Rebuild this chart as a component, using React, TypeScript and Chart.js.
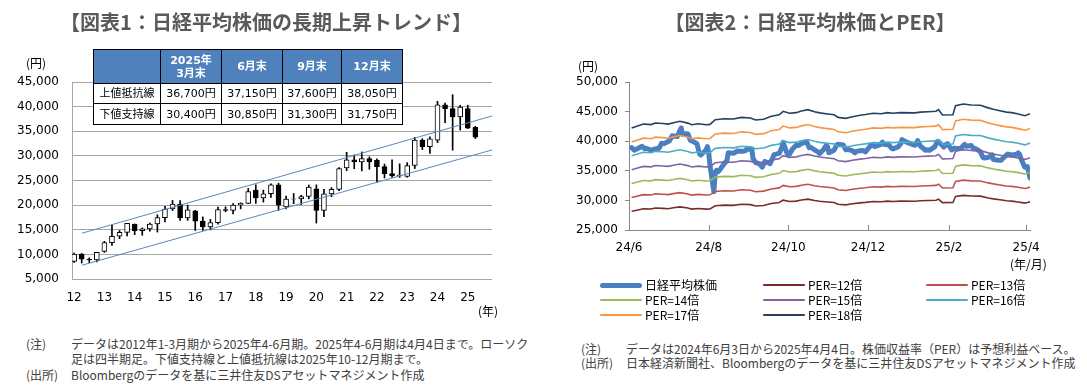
import React, { useEffect, useRef } from "react";
import { Chart, registerables } from "chart.js";

Chart.register(...registerables);

const LATIN = "'DejaVu Sans', 'Noto Sans CJK JP', sans-serif";
const JP = "'Noto Sans CJK JP', 'DejaVu Sans', sans-serif";

// ---------- Chart 1: quarterly candles 2012Q1 .. 2025Q2 ----------
const firstYear = 2012;
const candleOpen = [
  8549, 10083, 9007, 8870, 10600, 12398, 13677, 14455, 16147, 14828, 15162, 16174,
  17451, 19207, 20236, 17388, 18818, 16759, 15576, 16450, 19114, 18909, 20033, 20356,
  23073, 21454, 22305, 24120, 19655, 21206, 21276, 21756, 23320, 18917, 22288, 23185,
  27575, 29179, 28792, 29453, 29098, 27821, 26393, 25937, 25834, 28041, 33189, 31858,
  33193, 40369, 39583, 37920, 39600, 35800,
];
const candleHigh = [
  10255, 10190, 9288, 10433, 12650, 15942, 14855, 16320, 16164, 15376, 16375, 18030,
  19778, 20953, 20946, 20012, 18951, 17613, 17100, 19592, 19668, 20318, 20481, 23382,
  24129, 23050, 24306, 24448, 21860, 22362, 22000, 24092, 24116, 23186, 23559, 27602,
  30715, 30208, 30796, 29808, 29388, 28338, 29222, 28384, 28623, 33772, 33488, 33853,
  41087, 40697, 42426, 40257, 40288, 36000,
];
const candleLow = [
  8349, 8238, 8328, 8488, 10400, 11805, 13188, 13748, 13995, 13885, 14720, 14529,
  16593, 18886, 16901, 16902, 14866, 14864, 14952, 16111, 18650, 18224, 19239, 20296,
  20347, 20617, 21546, 18949, 19241, 20289, 20110, 21277, 16358, 17646, 21710, 22948,
  27002, 27385, 26954, 27293, 24682, 25520, 25621, 25622, 25662, 27427, 31275, 30487,
  32693, 36733, 31156, 35253, 35541, 33500,
];
const candleClose = [
  10083, 9007, 8870, 10395, 12398, 13677, 14455, 16291, 14828, 15162, 16174, 17451,
  19207, 20236, 17388, 19034, 16759, 15576, 16450, 19114, 18909, 20033, 20356, 22765,
  21454, 22305, 24120, 20015, 21206, 21276, 21756, 23657, 18917, 22288, 23185, 27444,
  29179, 28792, 29453, 28792, 27821, 26393, 25937, 26095, 28041, 33189, 31858, 33464,
  40369, 39583, 37920, 39894, 35618, 33781,
];
const yearTicks = [2012, 2013, 2014, 2015, 2016, 2017, 2018, 2019, 2020, 2021, 2022, 2023, 2024, 2025];
const upperLineX = [2012.26, 2025.8];
const upperLineY = [14300, 38100];
const lowerLineX = [2012.26, 2025.8];
const lowerLineY = [7800, 31200];

const tableHead = ["", "2025年\n3月末", "6月末", "9月末", "12月末"];
const tableUpper = ["上値抵抗線", "36,700円", "37,150円", "37,600円", "38,050円"];
const tableLower = ["下値支持線", "30,400円", "30,850円", "31,300円", "31,750円"];

// ---------- Chart 2: Nikkei and PER bands ----------
const nikkeiDates = [
  "2024-06-03", "2024-06-05", "2024-06-07", "2024-06-11", "2024-06-13", "2024-06-14", "2024-06-18",
  "2024-06-20", "2024-06-24", "2024-06-26", "2024-06-28", "2024-07-02", "2024-07-04", "2024-07-08",
  "2024-07-10", "2024-07-11", "2024-07-12", "2024-07-16", "2024-07-18", "2024-07-19", "2024-07-23",
  "2024-07-25", "2024-07-26", "2024-07-30", "2024-07-31", "2024-08-01", "2024-08-02", "2024-08-05",
  "2024-08-06", "2024-08-07", "2024-08-08", "2024-08-09", "2024-08-13", "2024-08-15", "2024-08-16",
  "2024-08-20", "2024-08-22", "2024-08-23", "2024-08-27", "2024-08-29", "2024-08-30", "2024-09-03",
  "2024-09-04", "2024-09-06", "2024-09-09", "2024-09-11", "2024-09-13", "2024-09-17", "2024-09-19",
  "2024-09-20", "2024-09-24", "2024-09-26", "2024-09-27", "2024-09-30", "2024-10-02", "2024-10-04",
  "2024-10-07", "2024-10-09", "2024-10-11", "2024-10-15", "2024-10-17", "2024-10-18", "2024-10-22",
  "2024-10-24", "2024-10-25", "2024-10-28", "2024-10-30", "2024-10-31", "2024-11-01", "2024-11-05",
  "2024-11-07", "2024-11-08", "2024-11-12", "2024-11-14", "2024-11-15", "2024-11-19", "2024-11-21",
  "2024-11-22", "2024-11-26", "2024-11-28", "2024-11-29", "2024-12-03", "2024-12-05", "2024-12-06",
  "2024-12-10", "2024-12-12", "2024-12-13", "2024-12-17", "2024-12-19", "2024-12-20", "2024-12-24",
  "2024-12-26", "2024-12-27", "2024-12-30", "2025-01-06", "2025-01-08", "2025-01-10", "2025-01-14",
  "2025-01-16", "2025-01-17", "2025-01-21", "2025-01-23", "2025-01-24", "2025-01-28", "2025-01-30",
  "2025-01-31", "2025-02-03", "2025-02-05", "2025-02-07", "2025-02-10", "2025-02-13", "2025-02-14",
  "2025-02-18", "2025-02-20", "2025-02-21", "2025-02-25", "2025-02-27", "2025-02-28", "2025-03-04",
  "2025-03-06", "2025-03-07", "2025-03-11", "2025-03-13", "2025-03-14", "2025-03-18", "2025-03-19",
  "2025-03-21", "2025-03-25", "2025-03-26", "2025-03-27", "2025-03-28", "2025-03-31", "2025-04-01",
  "2025-04-02", "2025-04-03", "2025-04-04",
];
const nikkeiValues = [
  38923, 38490, 38684, 39134, 38720, 38815, 38482,
  38633, 38804, 39667, 39583, 40074, 40913, 40780,
  41831, 42224, 41190, 41275, 40126, 40063, 39594,
  37869, 37667, 38525, 39101, 38126, 35909, 31458,
  34675, 35089, 34831, 35025, 36232, 36726, 38062,
  37967, 38211, 38364, 38288, 38362, 38647, 38686,
  37047, 36391, 36159, 35620, 36581, 36203, 37155,
  37723, 37940, 38925, 39829, 37919, 37808, 38635,
  39332, 39277, 39605, 39910, 38911, 38981, 38411,
  38143, 37913, 38605, 39277, 39081, 38053, 38474,
  39381, 39500, 39376, 38536, 38642, 38414, 38026,
  38283, 38442, 38349, 38208, 39248, 39395, 39091,
  39367, 39849, 39470, 39364, 38813, 38701, 39036,
  39568, 40281, 39894, 39307, 40083, 39190, 38474,
  38572, 38451, 39027, 39958, 39931, 39017, 39514,
  39572, 38520, 38831, 38787, 38801, 39461, 39149,
  39270, 38678, 38776, 38238, 37257, 37155, 37331,
  37705, 36887, 36793, 36790, 37053, 37845, 37751,
  37677, 37780, 38027, 37799, 37120, 35617, 35624,
  35725, 34736, 33781,
];
// Forward EPS (the PER bands are EPS x multiple)
const epsDates = [
  "2024-06-03", "2024-06-07", "2024-06-12", "2024-06-18", "2024-06-21", "2024-06-27", "2024-07-01",
  "2024-07-05", "2024-07-10", "2024-07-16", "2024-07-19", "2024-07-24", "2024-07-30", "2024-08-02",
  "2024-08-06", "2024-08-13", "2024-08-20", "2024-08-26", "2024-09-02", "2024-09-06", "2024-09-12",
  "2024-09-18", "2024-09-24", "2024-09-27", "2024-10-02", "2024-10-07", "2024-10-11", "2024-10-16",
  "2024-10-21", "2024-10-25", "2024-10-31", "2024-11-05", "2024-11-08", "2024-11-14", "2024-11-19",
  "2024-11-25", "2024-11-29", "2024-12-05", "2024-12-11", "2024-12-16", "2024-12-20", "2024-12-26",
  "2025-01-06", "2025-01-10", "2025-01-16", "2025-01-22", "2025-01-24", "2025-01-27", "2025-02-04",
  "2025-02-06", "2025-02-12", "2025-02-18", "2025-02-25", "2025-03-03", "2025-03-07", "2025-03-12",
  "2025-03-17", "2025-03-21", "2025-03-26", "2025-03-31", "2025-04-02", "2025-04-04",
];
const epsValues = [
  2346, 2362, 2383, 2378, 2393, 2388, 2383,
  2396, 2409, 2392, 2377, 2386, 2377, 2380,
  2424, 2433, 2430, 2446, 2440, 2421, 2428,
  2456, 2470, 2503, 2485, 2490, 2505, 2518,
  2499, 2488, 2478, 2470, 2446, 2437, 2452,
  2465, 2472, 2485, 2480, 2490, 2485, 2490,
  2488, 2495, 2499, 2503, 2518, 2468, 2471,
  2555, 2571, 2562, 2560, 2535, 2522, 2508,
  2495, 2490, 2478, 2462, 2470, 2480,
];
const perMultiples = [12, 13, 14, 15, 16, 17, 18];
const perColors = ["#772c2a", "#c0504d", "#9bbb59", "#8064a2", "#4bacc6", "#f79646", "#254061"];
const nikkeiColor = "#4a7fc1";
const monthTickDates = ["2024-06-01", "2024-08-01", "2024-10-01", "2024-12-01", "2025-02-01", "2025-04-01"];
const monthTickLabels = ["24/6", "24/8", "24/10", "24/12", "25/2", "25/4"];
const axisStart = "2024-06-01";
const axisEnd = "2025-04-04";

const BASE = Date.parse("2024-06-03T00:00:00Z");
const dayOf = (s: string) => (Date.parse(s + "T00:00:00Z") - BASE) / 86400000;

const innerTicks = {
  id: "innerTicks",
  afterDraw(chart: any) {
    const { ctx, chartArea, scales } = chart;
    const xs = scales.x;
    ctx.save();
    ctx.strokeStyle = "#868686";
    ctx.lineWidth = 1;
    xs.ticks.forEach((t: any) => {
      const px = Math.round(xs.getPixelForValue(t.value)) + 0.5;
      ctx.beginPath();
      ctx.moveTo(px, chartArea.bottom);
      ctx.lineTo(px, chartArea.bottom - 5);
      ctx.stroke();
    });
    ctx.restore();
  },
};

function CandleChart() {
  const ref = useRef<HTMLCanvasElement>(null);
  useEffect(() => {
    const xs = candleOpen.map((_, i) => firstYear + i * 0.25);
    const chart = new Chart(ref.current as HTMLCanvasElement, {
      type: "bar",
      data: {
        datasets: [
          {
            type: "line",
            data: upperLineX.map((x, i) => ({ x, y: upperLineY[i] })),
            borderColor: "#5a86bd",
            borderWidth: 1,
            pointRadius: 0,
          } as any,
          {
            type: "line",
            data: lowerLineX.map((x, i) => ({ x, y: lowerLineY[i] })),
            borderColor: "#5a86bd",
            borderWidth: 1,
            pointRadius: 0,
          } as any,
          {
            type: "bar",
            data: xs.map((x, i) => ({ x, y: [candleOpen[i], candleClose[i]] })),
            backgroundColor: candleOpen.map((o, i) => (candleClose[i] >= o ? "#ffffff" : "#000000")),
            borderColor: "#000000",
            borderWidth: 1,
            borderSkipped: false,
            barThickness: 5,
            grouped: false,
          } as any,
          {
            type: "bar",
            data: xs.map((x, i) => ({ x, y: [candleLow[i], candleHigh[i]] })),
            backgroundColor: "#000000",
            borderWidth: 0,
            barThickness: 1,
            grouped: false,
          } as any,
        ],
      },
      options: {
        responsive: false,
        animation: false,
        devicePixelRatio: 1,
        layout: { padding: { left: 0, top: 82, right: 48, bottom: 0 } },
        plugins: { legend: { display: false }, tooltip: { enabled: false } },
        scales: {
          x: {
            type: "linear",
            offset: false,
            min: 2011.93,
            max: 2025.8,
            grid: { display: false, drawTicks: false, offset: false },
            border: { display: false },
            ticks: {
              autoSkip: false,
              maxRotation: 0,
              padding: 12,
              color: "#000",
              font: { family: LATIN, size: 12 },
              callback: (v: any) => String(v).slice(2),
            },
            afterBuildTicks: (s: any) => {
              s.ticks = yearTicks.map((v) => ({ value: v }));
            },
            afterFit: (s: any) => {
              s.height = 41;
            },
          },
          y: {
            min: 5000,
            max: 45000,
            grid: { color: "#a6a6a6", drawTicks: false },
            border: { color: "#a6a6a6" },
            ticks: {
              stepSize: 5000,
              padding: 13,
              color: "#000",
              font: { family: LATIN, size: 12 },
              callback: (v: any) => Number(v).toLocaleString("en-US"),
            },
            afterFit: (s: any) => {
              s.width = 72;
            },
          },
        },
      } as any,
    });
    return () => chart.destroy();
  }, []);
  return <canvas ref={ref} width={540} height={320} style={{ position: "absolute", left: 0, top: 0 }} />;
}

function PerChart() {
  const ref = useRef<HTMLCanvasElement>(null);
  useEffect(() => {
    const perSets = perMultiples
      .map((m, k) => ({
        type: "line",
        label: "PER=" + m + "倍",
        data: epsDates.map((d, i) => ({ x: dayOf(d), y: epsValues[i] * m })),
        borderColor: perColors[k],
        borderWidth: 1.6,
        pointRadius: 0,
        tension: 0,
      }))
      .reverse();
    const chart = new Chart(ref.current as HTMLCanvasElement, {
      type: "line",
      data: {
        datasets: [
          ...perSets,
          {
            label: "日経平均株価",
            data: nikkeiDates.map((d, i) => ({ x: dayOf(d), y: nikkeiValues[i] })),
            borderColor: nikkeiColor,
            borderWidth: 5,
            borderJoinStyle: "round",
            borderCapStyle: "round",
            pointRadius: 0,
            tension: 0,
          },
        ] as any,
      },
      options: {
        responsive: false,
        animation: false,
        devicePixelRatio: 1,
        layout: { padding: { left: 0, top: 82, right: 57, bottom: 0 } },
        plugins: { legend: { display: false }, tooltip: { enabled: false } },
        scales: {
          x: {
            type: "linear",
            min: dayOf(axisStart),
            max: dayOf(axisEnd),
            grid: { display: false, drawTicks: false },
            border: { color: "#868686" },
            ticks: {
              autoSkip: false,
              maxRotation: 0,
              padding: 11,
              color: "#000",
              font: { family: LATIN, size: 12 },
              callback: (v: any) => {
                const k = monthTickDates.findIndex((d) => dayOf(d) === v);
                return k >= 0 ? monthTickLabels[k] : "";
              },
            },
            afterBuildTicks: (s: any) => {
              s.ticks = monthTickDates.map((d) => ({ value: dayOf(d) }));
            },
            afterFit: (s: any) => {
              s.height = 50;
            },
          },
          y: {
            min: 25000,
            max: 50000,
            grid: { display: true, drawOnChartArea: false, drawTicks: true, tickLength: 4, color: "#868686" },
            border: { color: "#868686" },
            ticks: {
              stepSize: 5000,
              padding: 7,
              color: "#000",
              font: { family: LATIN, size: 12 },
              callback: (v: any) => Number(v).toLocaleString("en-US"),
            },
            afterFit: (s: any) => {
              s.width = 89;
            },
          },
        },
      } as any,
      plugins: [innerTicks],
    });
    return () => chart.destroy();
  }, []);
  return <canvas ref={ref} width={547} height={280} style={{ position: "absolute", left: 540, top: 0 }} />;
}

const abs = (left: number, top: number, extra: React.CSSProperties = {}): React.CSSProperties => ({
  position: "absolute",
  left,
  top,
  whiteSpace: "nowrap",
  ...extra,
});

const colW = [67, 61, 61, 59, 61];

function Table() {
  const cell: React.CSSProperties = {
    border: "1px solid #000",
    padding: 0,
    textAlign: "center",
    fontFamily: LATIN,
    fontSize: 11,
    color: "#000",
    background: "#fff",
    lineHeight: "13px",
  };
  return (
    <table
      style={{
        position: "absolute",
        left: 93,
        top: 49,
        borderCollapse: "collapse",
        tableLayout: "fixed",
        width: colW.reduce((a, b) => a + b, 0),
      }}
    >
      <colgroup>
        {colW.map((w, i) => (
          <col key={i} style={{ width: w }} />
        ))}
      </colgroup>
      <tbody>
        <tr style={{ height: 34 }}>
          {tableHead.map((h, i) => (
            <td
              key={i}
              style={{ ...cell, background: "#4f81bd", color: "#fff", fontWeight: "bold", whiteSpace: "pre-line" }}
            >
              {h}
            </td>
          ))}
        </tr>
        <tr style={{ height: 20 }}>
          {tableUpper.map((h, i) => (
            <td key={i} style={cell}>
              {h}
            </td>
          ))}
        </tr>
        <tr style={{ height: 21 }}>
          {tableLower.map((h, i) => (
            <td key={i} style={cell}>
              {h}
            </td>
          ))}
        </tr>
      </tbody>
    </table>
  );
}

const legendItems = [
  { label: "日経平均株価", color: nikkeiColor, w: 5, col: 0, row: 0 },
  { label: "PER=12倍", color: perColors[0], w: 2, col: 1, row: 0 },
  { label: "PER=13倍", color: perColors[1], w: 2, col: 2, row: 0 },
  { label: "PER=14倍", color: perColors[2], w: 2, col: 0, row: 1 },
  { label: "PER=15倍", color: perColors[3], w: 2, col: 1, row: 1 },
  { label: "PER=16倍", color: perColors[4], w: 2, col: 2, row: 1 },
  { label: "PER=17倍", color: perColors[5], w: 2, col: 0, row: 2 },
  { label: "PER=18倍", color: perColors[6], w: 2, col: 1, row: 2 },
];
const legendColX = [600, 763, 926];
const legendRowY = [285, 300, 315];

export default function App() {
  const note: React.CSSProperties = { fontFamily: JP, fontSize: 12, color: "#404040", lineHeight: "14px" };
  const axisTxt: React.CSSProperties = { fontFamily: JP, fontSize: 12, color: "#000", lineHeight: "14px" };
  const title: React.CSSProperties = {
    fontFamily: JP,
    fontSize: 20,
    fontWeight: "bold",
    color: "#595959",
    lineHeight: "24px",
    textAlign: "center",
  };
  return (
    <div
      style={{
        position: "absolute",
        left: 0,
        top: 0,
        width: 1087,
        height: 391,
        background: "#fff",
        overflow: "hidden",
      }}
    >
      <CandleChart />
      <PerChart />
      <div style={abs(0, 10, { ...title, width: 532 })}>【図表1：日経平均株価の長期上昇トレンド】</div>
      <div style={abs(538, 10, { ...title, width: 544 })}>【図表2：日経平均株価とPER】</div>
      <Table />
      <div style={abs(26, 56, axisTxt)}>(円)</div>
      <div style={abs(478, 304, axisTxt)}>(年)</div>
      <div style={abs(578, 59, axisTxt)}>(円)</div>
      <div style={abs(1010, 257, axisTxt)}>(年/月)</div>
      {legendItems.map((it, i) => (
        <div key={i}>
          <div
            style={abs(legendColX[it.col], legendRowY[it.row] - it.w / 2, {
              width: 42,
              height: it.w,
              background: it.color,
              borderRadius: it.w / 2,
            })}
          />
          <div style={abs(legendColX[it.col] + 45, legendRowY[it.row] - 7, axisTxt)}>{it.label}</div>
        </div>
      ))}
      <div style={abs(26, 337, note)}>(注)</div>
      <div style={abs(71, 337, note)}>データは2012年1-3月期から2025年4-6月期。2025年4-6月期は4月4日まで。ローソク</div>
      <div style={abs(71, 352, note)}>足は四半期足。下値支持線と上値抵抗線は2025年10-12月期まで。</div>
      <div style={abs(26, 368, note)}>(出所)</div>
      <div style={abs(71, 368, note)}>Bloombergのデータを基に三井住友DSアセットマネジメント作成</div>
      <div style={abs(581, 342, note)}>(注)</div>
      <div style={abs(626, 342, note)}>データは2024年6月3日から2025年4月4日。株価収益率（PER）は予想利益ベース。</div>
      <div style={abs(581, 356, note)}>(出所)</div>
      <div style={abs(626, 356, note)}>日本経済新聞社、Bloombergのデータを基に三井住友DSアセットマネジメント作成</div>
    </div>
  );
}
